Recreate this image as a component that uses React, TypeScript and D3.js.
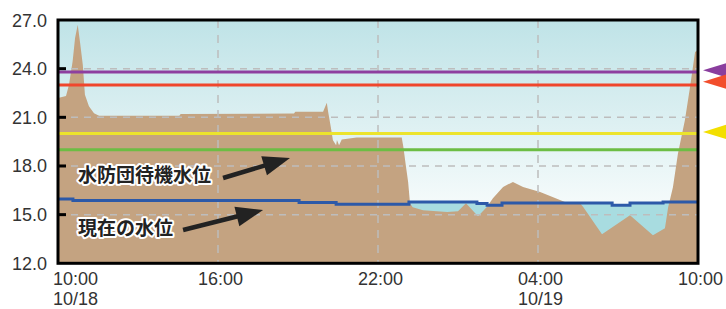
import React from "react";
import * as d3 from "d3";

// hours since 10/18 10:00
const areaT = [0, 0.3, 0.41, 0.55, 0.64, 0.74, 0.83, 0.93, 1.01, 1.16, 1.35, 1.54, 4.55, 4.6, 8.85, 8.9, 9.94, 10.08, 10.13, 10.23, 10.31, 10.43, 10.46, 10.54, 10.64, 11.2, 12.89, 12.95, 13.05, 13.13, 13.2, 13.3, 13.69, 14.59, 15.0, 15.3, 15.75, 16.09, 16.31, 16.69, 17.06, 17.44, 18.08, 19.01, 19.58, 19.69, 20.4, 21.45, 22.31, 22.76, 22.88, 23.06, 23.25, 23.51, 23.7, 23.89, 24];
const areaV = [22.19, 22.31, 22.99, 24.47, 25.89, 26.71, 25.58, 24.24, 22.39, 21.69, 21.25, 21.09, 21.09, 21.2, 21.24, 21.34, 21.34, 21.9, 21.34, 20.41, 19.59, 19.28, 19.6, 19.28, 19.64, 19.76, 19.76, 19.18, 17.95, 17.02, 15.7, 15.45, 15.27, 15.17, 15.21, 15.7, 14.9, 15.48, 16.01, 16.71, 17.02, 16.71, 16.4, 15.78, 15.7, 15.48, 13.79, 14.96, 13.73, 14.16, 15.46, 16.69, 18.79, 20.83, 22.86, 25.02, 25.15];

const levelT = [0, 0.56, 9.04, 10.43, 13.16, 15.71, 16.09, 16.65, 20.78, 21.45, 22.69, 24];
const levelV = [15.97, 15.87, 15.75, 15.64, 15.78, 15.69, 15.58, 15.72, 15.58, 15.72, 15.78, 15.78];

const thresholdNames = ["purple", "red", "yellow", "green"];
const thresholdValues = [23.8, 23.0, 20.0, 19.0];
const thresholdColors = ["#8e3f9f", "#f0462c", "#ece42c", "#6cbd44"];
const markerValues = [23.9, 23.2, 20.1];
const markerColors = ["#8a3e9e", "#f24e2c", "#f3df00"];

const yTicks = [27, 24, 21, 18, 15, 12];
const xTicks = [0, 6, 12, 18, 24];
const xTickLabels = ["10:00", "16:00", "22:00", "04:00", "10:00"];
const dateTicks = [0, 18];
const dateLabels = ["10/18", "10/19"];

const annoTexts = ["水防団待機水位", "現在の水位"];
const annoTextPos = [[0.75, 17.0], [0.75, 13.75]];
const arrowFrom = [[6.19, 17.26], [4.69, 14.05]];
const arrowTo = [[8.7, 18.49], [7.69, 15.29]];

const W = 726, H = 309;
const L = 58, R = 698, T = 20, B = 263.3;

export default function App() {
  const x = d3.scaleLinear().domain([0, 24]).range([L, R]);
  const y = d3.scaleLinear().domain([12, 27]).range([B, T]);

  const areaData = areaT.map((t, i) => ({ t, v: areaV[i] }));
  const levelData = levelT.map((t, i) => ({ t, v: levelV[i] }));

  const tanArea = d3.area<any>().x(d => x(d.t)).y0(y(12)).y1(d => y(d.v))(areaData) || "";
  const waterArea = d3.area<any>().curve(d3.curveStepAfter).x(d => x(d.t)).y0(y(12)).y1(d => y(d.v))(levelData) || "";
  const levelLine = d3.line<any>().curve(d3.curveStepAfter).x(d => x(d.t)).y(d => y(d.v))(levelData) || "";

  const font = "'Liberation Sans', Arial, sans-serif";

  const arrowPath = (i: number) => {
    const x1 = x(arrowFrom[i][0]), y1 = y(arrowFrom[i][1]);
    const x2 = x(arrowTo[i][0]), y2 = y(arrowTo[i][1]);
    const dx = x2 - x1, dy = y2 - y1;
    const len = Math.hypot(dx, dy);
    const ux = dx / len, uy = dy / len;
    const px = -uy, py = ux;
    const hl = 27, hw = 10;
    const bx = x2 - ux * hl, by = y2 - uy * hl;
    return {
      shaft: `M${x1},${y1}L${bx + ux * 2},${by + uy * 2}`,
      head: `M${x2},${y2}L${bx + px * hw},${by + py * hw}L${bx - px * hw},${by - py * hw}Z`,
    };
  };

  return (
    <svg width={W} height={H} style={{ position: "absolute", left: 0, top: 0, display: "block" }}>
      <defs>
        <linearGradient id="sky" x1="0" y1={T} x2="0" y2={215} gradientUnits="userSpaceOnUse">
          <stop offset="0" stopColor="#bfe3e7" />
          <stop offset="1" stopColor="#f8fcfc" />
        </linearGradient>
        <clipPath id="plot">
          <rect x={L} y={T} width={R - L} height={B - T} />
        </clipPath>
      </defs>
      <rect width={W} height={H} fill="#fff" />
      <g clipPath="url(#plot)">
        <rect x={L} y={T} width={R - L} height={B - T} fill="url(#sky)" />
        <path d={waterArea} fill="#a8dce0" />
        <path d={tanArea} fill="#c4a381" />
        {yTicks.filter(v => v > 12 && v < 27).map(v => (
          <line key={"gy" + v} x1={L} x2={R} y1={y(v)} y2={y(v)} stroke="#bdbdbd" strokeWidth={1.5} strokeDasharray="7,6" />
        ))}
        {xTicks.filter(t => t > 0 && t < 24).map(t => (
          <line key={"gx" + t} x1={x(t)} x2={x(t)} y1={T} y2={B} stroke="#bdbdbd" strokeWidth={1.5} strokeDasharray="8,7" />
        ))}
        {thresholdValues.map((v, i) => (
          <line key={thresholdNames[i]} x1={L} x2={R} y1={y(v)} y2={y(v)} stroke={thresholdColors[i]} strokeWidth={3} />
        ))}
        <path d={levelLine} fill="none" stroke="#2c59a8" strokeWidth={3} />
      </g>
      <rect x={L} y={T} width={R - L} height={B - T} fill="none" stroke="#000" strokeWidth={3} />
      {yTicks.filter(v => v > 12 && v < 27).map(v => (
        <line key={"t" + v} x1={L} x2={L + 8} y1={y(v)} y2={y(v)} stroke="#000" strokeWidth={3} />
      ))}
      {yTicks.map(v => (
        <text key={"yl" + v} x={47} y={y(v) + 6.5} textAnchor="end" fontFamily={font} fontSize={18} fill="#333">
          {v.toFixed(1)}
        </text>
      ))}
      {xTicks.map((t, i) => (
        <text key={"xl" + i} x={i === 0 ? x(t) - 5 : x(t) + 2.5} y={285} textAnchor={i === 0 ? "start" : "middle"} fontFamily={font} fontSize={18} fill="#333">
          {xTickLabels[i]}
        </text>
      ))}
      {dateTicks.map((t, i) => (
        <text key={"dl" + i} x={i === 0 ? x(t) - 5 : x(t) + 2.5} y={305} textAnchor={i === 0 ? "start" : "middle"} fontFamily={font} fontSize={18} fill="#333">
          {dateLabels[i]}
        </text>
      ))}
      {markerValues.map((v, i) => {
        const cy = y(v);
        const tip = R + 5;
        return (
          <path key={"m" + i} d={`M${tip},${cy}L${tip + 26},${cy - 8}L${tip + 26},${cy + 8}Z`} fill={markerColors[i]} />
        );
      })}
      {annoTexts.map((s, i) => (
        <text key={"a" + i} x={x(annoTextPos[i][0])} y={y(annoTextPos[i][1])} fontFamily="'Noto Sans CJK JP', sans-serif" fontWeight={700} fontSize={19} fill="#222" stroke="#fff" strokeWidth={4} strokeLinejoin="round" style={{ paintOrder: "stroke" }}>
          {s}
        </text>
      ))}
      {arrowFrom.map((_, i) => {
        const a = arrowPath(i);
        return (
          <g key={"ar" + i}>
            <path d={a.shaft} stroke="#222" strokeWidth={4.5} fill="none" />
            <path d={a.head} fill="#222" />
          </g>
        );
      })}
    </svg>
  );
}
